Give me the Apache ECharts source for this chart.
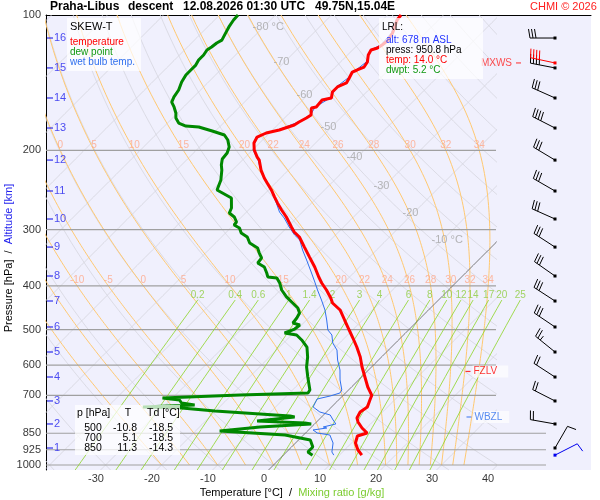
<!DOCTYPE html>
<html>
<head>
<meta charset="utf-8">
<title>Praha-Libus skew-T</title>
<script src="https://cdn.jsdelivr.net/npm/echarts@6/dist/echarts.min.js"></script>
<style>html,body{margin:0;padding:0;background:#fff}#chart{width:600px;height:500px}</style>
</head>
<body>
<div id="chart"></div>
<script>
// sounding: pressure [hPa] / temperature [°C]
var tempP = [100, 102.6, 109.6, 113.7, 116.6, 118.4, 119.6, 122.7, 127.2, 130.5, 132.5, 133.9, 138.0, 141.6, 144.5, 148.3, 152.9, 154.5, 160.1, 160.9, 166.8, 169.4, 172.9, 175.6, 180.1, 182.9, 186.7, 192.5, 199.5, 206.9, 210.1, 221.1, 230.3, 236.2, 244.8, 253.7, 261.6, 271.2, 281.1, 295.9, 303.6, 311.4, 327.9, 345.1, 363.1, 382.1, 394.0, 408.4, 425.5, 436.5, 452.4, 476.2, 501.2, 522.2, 546.8, 575.4, 605.6, 637.4, 670.9, 700, 717.0, 743.1, 762.4, 786.2, 802.4, 827.6, 849.0, 862.1, 893.5, 926.1, 950.8];
var tempT = [-57.6, -57.4, -55.9, -55.4, -55.6, -55.9, -56.7, -56.3, -55.2, -54.9, -55.6, -56.1, -55.6, -55.2, -56.1, -56.1, -55.2, -56.5, -56.3, -57.0, -55.8, -56.1, -56.7, -57.0, -58.8, -60.6, -61.5, -61.0, -59.7, -57.9, -57.0, -54.9, -52.9, -51.5, -49.5, -47.7, -46.1, -44.1, -42.0, -39.3, -37.9, -36.1, -33.4, -30.7, -28.0, -25.5, -23.9, -21.8, -19.6, -18.4, -15.8, -13.2, -10.6, -8.5, -6.2, -3.8, -1.7, 0.6, 2.9, 5.1, 5.6, 6.4, 6.0, 6.5, 7.4, 9.2, 11.0, 9.8, 10.7, 12.4, 14.0];

var dewP = [100, 102.6, 106.3, 109.6, 113.7, 115.4, 117.8, 119.6, 122.7, 125.9, 129.2, 132.5, 135.9, 140.9, 146.8, 152.1, 156.1, 160.1, 165.1, 169.4, 173.8, 176.5, 177.4, 181.0, 184.8, 189.6, 196.5, 202.6, 208.9, 215.4, 221.1, 232.6, 244.8, 248.6, 255.1, 268.5, 275.4, 281.1, 288.4, 292.9, 297.4, 305.1, 311.4, 321.1, 329.4, 338.0, 346.7, 355.7, 363.1, 374.4, 382.1, 384.1, 394.0, 408.4, 423.2, 436.5, 447.8, 459.4, 471.3, 483.6, 488.6, 498.7, 508.9, 514.1, 527.4, 546.8, 575.4, 605.6, 637.4, 681.3, 691.8, 698.9, 709.7, 717.0, 728.1, 735.6, 743.1, 746.9, 758.6, 778.2, 782.2, 798.3, 806.6, 810.6, 823.2, 840.1, 857.7, 879.9, 912.0, 935.6, 950.8];
var dewT = [-86.7, -86.6, -86.2, -85.7, -85.1, -85.5, -85.7, -86.0, -85.7, -85.7, -85.3, -85.3, -85.3, -84.8, -83.9, -83.5, -83.0, -81.7, -80.3, -79.4, -78.0, -76.2, -73.7, -70.6, -67.7, -66.2, -64.7, -64.0, -63.8, -62.9, -61.9, -60.3, -59.2, -57.7, -55.2, -53.4, -52.9, -51.3, -50.0, -49.9, -48.4, -47.2, -45.4, -43.9, -41.6, -40.4, -39.1, -38.9, -37.0, -35.5, -34.6, -32.8, -31.4, -29.8, -27.7, -25.5, -23.7, -22.5, -22.1, -21.9, -20.3, -20.5, -21.6, -19.1, -17.3, -15.1, -13.2, -11.6, -9.6, -6.9, -6.7, -18.5, -31.8, -28.4, -27.5, -24.8, -33.7, -26.6, -20.1, -5.8, -4.8, -10.8, -1.9, -0.6, -9.2, -15.7, -3.3, 2.1, 3.8, 3.8, 5.2];

var wetP = [100, 103.6, 109.6, 116.6, 119.6, 127.2, 132.5, 138.0, 144.5, 152.9, 160.1, 166.8, 172.9, 180.1, 186.7, 199.5, 210.1, 223.4, 236.2, 248.6, 261.6, 274.1, 282.6, 295.9, 308.3, 316.2, 332.9, 350.3, 374.4, 392.1, 408.4, 429.9, 452.4, 476.2, 501.2, 514.1, 535.8, 555.3, 584.5, 615.0, 647.3, 681.3, 691.8, 702.5, 713.4, 743.1, 762.4, 774.3, 794.3, 810.6, 823.2, 827.6, 835.9, 849.0, 857.7, 893.5, 935.6, 950.8];
var wetT = [-57.7, -57.4, -56.1, -55.8, -56.8, -55.4, -55.8, -55.8, -56.3, -55.4, -56.5, -55.9, -56.8, -59.0, -61.7, -59.9, -57.2, -54.5, -51.5, -48.8, -46.3, -44.1, -42.2, -39.7, -37.3, -35.5, -33.2, -30.7, -27.5, -25.3, -23.4, -20.9, -18.5, -16.4, -14.4, -12.8, -11.2, -9.2, -7.3, -5.1, -3.3, -1.2, -1.0, -2.2, -4.0, -3.3, -1.2, 1.2, 2.6, 3.8, 2.1, 2.9, 0.8, 2.1, 4.7, 6.7, 8.1, 9.0];

// altitude marks (km) and the pressure they sit at, winds at the same levels
var altKm = [16, 15, 14, 13, 12, 11, 10, 9, 8, 7, 6, 5, 4, 3, 2, 1];
var altP = [112.5, 131.1, 152.9, 178.3, 210.1, 246.1, 284.0, 327.9, 380.2, 432.1, 493.5, 560.9, 637.5, 720.6, 810.6, 916.7];
var windDir = [270, 281, 294, 297, 301, 300, 294, 303, 305, 303, 304, 309, 303, 297, 280, 30];
var windSpd = [30, 40, 30, 40, 30, 30, 30, 30, 30, 30, 30, 25, 20, 20, 20, 10];

// max wind and launch-level wind
var extraWindP = [127.8, 950.8];
var extraWindDir = [282, 63];
var extraWindSpd = [40, 10];

// special levels
var levelNames = ['MXWS', 'FZLV', 'WBZL'];
var levelP = [127.8, 619.6, 782.2];

// axes / diagram grid
var pressTicks = [100, 200, 300, 400, 500, 600, 700, 850, 925, 1000];
var isobarP = [200, 300, 400, 500, 600, 700, 850, 925, 1000];
var tempTicks = [-30, -20, -10, 0, 10, 20, 30, 40];
var isoT = [-120, -110, -100, -90, -80, -70, -60, -50, -40, -30, -20, -10, 0, 10, 20, 30, 40];
var isoLabT = [-80, -70, -60, -50, -40, -30, -20, -10];
var isoLabP = [106.3, 127.2, 150.6, 177.4, 206.9, 239.9, 275.4, 316.2];
var thetaC = [-40, -30, -20, -10, 0, 10, 20, 30, 40, 50, 60, 70, 80, 90, 100, 110, 120, 130, 140, 150, 160, 170, 180];
var thetaW = [-20, -15, -10, -5, 0, 5, 10, 15, 20, 22, 24, 26, 28, 30, 32, 34];
var mixW = [0.2, 0.4, 0.6, 1, 1.4, 2, 3, 4, 6, 8, 10, 12, 14, 17, 20, 25];

// table and launch level box
var tabP = [500, 700, 850];
var tabT = [-10.8, 5.1, 11.3];
var tabTd = [-18.5, -18.5, -14.3];
var lrlAlt = 678, lrlP = 950.8, lrlT = 14.0, lrlTd = 5.2;

var FONT = '"Liberation Sans", Arial, sans-serif';
var PX_DEG = 5.6, PX_DEC = 450, K = PX_DEC / PX_DEG, P_REF = 1050;
var X_MIN = (46 - 264) / PX_DEG, X_MAX0 = (496 - 264) / PX_DEG, X_MAX1 = (591 - 264) / PX_DEG;
var X_LOW_END = (546 - 264) / PX_DEG, X_BARB = (555 - 264) / PX_DEG;
var P_TOP = 100, P_BOT = 100 * Math.pow(10, 455 / 450), MIX_TOP = 430;

function skewX(t, p) { return t + K * Math.log10(P_REF / p); }
function logLevels(p0, p1, n) {
    var a = [];
    for (var i = 0; i <= n; i++) a.push(p0 * Math.pow(p1 / p0, i / n));
    return a;
}
function es(tc) { return 6.112 * Math.exp(17.67 * tc / (tc + 243.5)); }
function moistRate(tk, p) {
    var e = es(tk - 273.15), r = 0.622 * e / (p - e);
    return (287.04 * tk + 2.501e6 * r) / (1005.7 + 2.501e6 * 2.501e6 * r * 0.622 / (287.04 * tk * tk)) / p;
}
function moistLine(thw) {
    var tk = thw + 273.15, p = 1000, dp = -5, pts = [[skewX(thw, p), p]];
    while (p > 100) {
        var k1 = moistRate(tk, p), k2 = moistRate(tk + dp / 2 * k1, p + dp / 2),
            k3 = moistRate(tk + dp / 2 * k2, p + dp / 2), k4 = moistRate(tk + dp * k3, p + dp);
        tk += dp / 6 * (k1 + 2 * k2 + 2 * k3 + k4);
        p += dp;
        pts.push([skewX(tk - 273.15, p), p]);
    }
    return pts;
}
function mixT(w, p) {
    var e = w / 1000 * p / (0.622 + w / 1000), l = Math.log(e / 6.112);
    return 243.5 * l / (17.67 - l);
}
function lineS(g, data, color, width, z) {
    return {type: 'line', xAxisIndex: g, yAxisIndex: g, data: data, showSymbol: false, symbol: 'none',
        silent: true, animation: false, lineStyle: {color: color, width: width}, z: z || 1};
}
function labelS(data, label, z) {
    return {type: 'scatter', xAxisIndex: 1, yAxisIndex: 1, data: data, symbolSize: 0, silent: true,
        clip: false, animation: false, z: z || 3,
        label: Object.assign({show: true, formatter: '{b}', fontFamily: FONT}, label)};
}

var series = [];
var bgLevels = logLevels(P_BOT, P_TOP, 60);

// isotherms, dry adiabats, moist adiabats (clipped on grid 0)
isoT.forEach(function (t) {
    series.push(lineS(0, bgLevels.map(function (p) { return [skewX(t, p), p]; }),
        t === 0 ? '#6e6e6e' : '#d4d4dc', t === 0 ? 0.9 : 0.8, t === 0 ? 3 : 1));
});
thetaC.forEach(function (th) {
    series.push(lineS(0, bgLevels.map(function (p) {
        return [skewX((th + 273.15) * Math.pow(p / 1000, 0.2857) - 273.15, p), p];
    }), '#d6d6de', 0.8));
});
var moistLab = [];
thetaW.forEach(function (thw) {
    var pts = moistLine(thw);
    series.push(lineS(0, pts, '#ffc870', 1, 1));
    pts.forEach(function (pt) {
        if ((pt[1] === 200 || pt[1] === 400) && pt[0] > -37.5 && pt[0] < 41)
            moistLab.push({value: pt, name: String(thw)});
    });
});

// isobars
isobarP.forEach(function (p) {
    series.push(lineS(1, [[X_MIN, p], [p >= 850 ? X_LOW_END : X_MAX0, p]], '#a0a0a0', 1.2, 2));
});

// mixing ratio lines
var mixLab = [];
mixW.forEach(function (w) {
    var pts = logLevels(P_BOT, MIX_TOP, 20).map(function (p) { return [skewX(mixT(w, p), p), p]; });
    series.push(lineS(1, pts, '#8cd424', 0.8, 2));
    mixLab.push({value: pts[pts.length - 1], name: String(w)});
});

// labels of the diagram lines
series.push(labelS(moistLab, {position: 'top', distance: 0.5, color: '#ffa888', fontSize: 10}));
series.push(labelS(mixLab, {position: 'top', distance: 0, color: '#8ccc3c', fontSize: 10}));
series.push(labelS(isoLabT.map(function (t, i) {
    return {value: [skewX(t, isoLabP[i]), isoLabP[i]], name: (t === -80 || t === -10) ? t + ' °C' : String(t)};
}), {position: 'right', distance: 0, offset: [-11, 0], color: '#a4a4a4', fontSize: 11}));

// axis labels
series.push(labelS(pressTicks.map(function (p) { return {value: [X_MIN, p], name: String(p)}; }),
    {position: 'left', distance: 5, color: '#000', fontSize: 11}));
series.push(labelS(tempTicks.map(function (t) { return {value: [t, P_BOT], name: String(t)}; }),
    {position: 'bottom', distance: 3, color: '#000', fontSize: 11}));
series.push({type: 'scatter', xAxisIndex: 1, yAxisIndex: 1, symbol: 'rect', symbolSize: [6, 1.4],
    silent: true, animation: false, clip: false, z: 4, itemStyle: {color: '#2222ee'},
    data: altP.map(function (p) { return [X_MIN + 4 / PX_DEG, p]; })});
series.push(labelS(altKm.map(function (k, i) { return {value: [X_MIN + 8 / PX_DEG, altP[i]], name: String(k)}; }),
    {position: 'right', distance: 0, color: '#2222ee', fontSize: 11}, 4));

// profiles
function prof(P, T) { return P.map(function (p, i) { return [skewX(T[i], p), p]; }); }
series.push(lineS(1, prof(wetP, wetT), '#2f6fee', 1, 5));
series.push(lineS(1, prof(dewP, dewT), '#008800', 3, 6));
series.push(lineS(1, prof(tempP, tempT), '#ff0000', 3, 7));

// wind barbs
var BARB_COLORS = ['#000000', '#ff0000', '#0000ee'];
var barbData = altP.map(function (p, i) { return [X_BARB, p, windDir[i], windSpd[i], 0]; });
barbData.push([X_BARB, extraWindP[0], extraWindDir[0], extraWindSpd[0], 1]);
barbData.push([X_BARB, extraWindP[1], extraWindDir[1], extraWindSpd[1], 2]);
series.push({
    type: 'custom', xAxisIndex: 1, yAxisIndex: 1, data: barbData, silent: true, animation: false, clip: false, z: 8,
    renderItem: function (params, api) {
        var c = api.coord([api.value(0), api.value(1)]);
        var d = api.value(2) * Math.PI / 180, s = api.value(3), col = BARB_COLORS[api.value(4)];
        var ux = Math.sin(d), uy = -Math.cos(d), bx = -uy, by = ux;
        var tx = c[0] + 25 * ux, ty = c[1] + 25 * uy;
        var ch = [
            {type: 'rect', shape: {x: c[0] - 1.5, y: c[1] - 1.5, width: 3, height: 3}, style: {fill: col}},
            {type: 'line', shape: {x1: c[0], y1: c[1], x2: tx, y2: ty}, style: {stroke: col, lineWidth: 1}}
        ];
        var pos = 0, n = Math.floor(s / 10);
        for (var i = 0; i < n; i++) {
            var sx = tx - pos * ux, sy = ty - pos * uy;
            ch.push({type: 'line', shape: {x1: sx, y1: sy, x2: sx + 9 * bx + 1.5 * ux, y2: sy + 9 * by + 1.5 * uy},
                style: {stroke: col, lineWidth: 1}});
            pos += 3;
        }
        if (s % 10 >= 5) {
            var hx = tx - pos * ux, hy = ty - pos * uy;
            ch.push({type: 'line', shape: {x1: hx, y1: hy, x2: hx + 5 * bx, y2: hy + 5 * by},
                style: {stroke: col, lineWidth: 1}});
        }
        return {type: 'group', children: ch};
    }
});

// MXWS / FZLV / WBZL marks
series.push({
    type: 'scatter', xAxisIndex: 1, yAxisIndex: 1, symbol: 'rect', symbolSize: [5, 1.2],
    silent: true, animation: false, clip: false, z: 9,
    label: {show: true, formatter: '{b}', fontFamily: FONT, fontSize: 10},
    data: [
        {name: levelNames[0], value: [(518.5 - 264) / PX_DEG, levelP[0]], itemStyle: {color: '#ff2020'},
            label: {position: 'left', distance: 4, color: '#ff2020'}},
        {name: levelNames[1], value: [(468 - 264) / PX_DEG, levelP[1]], itemStyle: {color: '#ff0000'},
            label: {position: 'right', distance: 2, color: '#ff0000', backgroundColor: 'rgba(255,255,255,0.8)', padding: [1, 11, 1, 1]}},
        {name: levelNames[2], value: [(469 - 264) / PX_DEG, levelP[2]], itemStyle: {color: '#2f6fee'},
            label: {position: 'right', distance: 2, color: '#2f6fee', backgroundColor: 'rgba(255,255,255,0.8)', padding: [1, 7, 1, 1]}}
    ]
});

// text blocks
function txt(x, y, text, size, color, align, weight) {
    return {type: 'text', x: x, y: y, z: 110, silent: true,
        style: {text: text, font: (weight || '') + ' ' + size + 'px ' + FONT, fill: color,
            align: align || 'left', verticalAlign: 'middle'}};
}
function box(x, y, w, h) {
    return {type: 'rect', z: 100, silent: true, shape: {x: x, y: y, width: w, height: h},
        style: {fill: 'rgba(255,255,255,0.72)'}};
}
var graphics = [
    txt(50, 7, 'Praha-Libus', 12, '#000', 'left', 'bold'),
    txt(128, 7, 'descent', 12, '#000', 'left', 'bold'),
    txt(183, 7, '12.08.2026 01:30 UTC', 12, '#000', 'left', 'bold'),
    txt(315, 7, '49.75N,15.04E', 12, '#000', 'left', 'bold'),
    txt(530, 7, 'CHMI © 2026', 11, '#ff2020'),
    box(67, 18, 74, 53),
    txt(70, 27, 'SKEW-T', 11, '#000'),
    txt(70, 42, 'temperature', 10, '#ff0000'),
    txt(70, 52, 'dew point', 10, '#119911'),
    txt(70, 62, 'wet bulb temp.', 10, '#2f6fee'),
    box(379, 18, 104, 61),
    txt(382, 27, 'LRL:', 10, '#000'),
    txt(386, 40, 'alt: ' + lrlAlt + ' m ASL', 10, '#2233ff'),
    txt(386, 50, 'press: ' + lrlP.toFixed(1) + ' hPa', 10, '#000'),
    txt(386, 60, 'temp: ' + lrlT.toFixed(1) + ' °C', 10, '#ff0000'),
    txt(386, 70, 'dwpt: ' + lrlTd.toFixed(1) + ' °C', 10, '#119911'),
    box(75, 405, 105, 50),
    txt(77, 413, 'p [hPa]', 10.5, '#000'),
    txt(128, 413, 'T', 10.5, '#000', 'center'),
    txt(147, 413, 'Td [°C]', 10.5, '#000'),
    {type: 'text', x: 292, y: 493, z: 110, silent: true,
        style: {text: '{a|Temperature [°C]}  /  {b|Mixing ratio [g/kg]}', font: '11px ' + FONT,
            align: 'center', verticalAlign: 'middle', fill: '#000',
            rich: {a: {fill: '#000', font: '11px ' + FONT}, b: {fill: '#7ccc30', font: '11px ' + FONT}}}},
    {type: 'text', x: 9, y: 258, rotation: Math.PI / 2, z: 110, silent: true,
        style: {text: '{a|Pressure [hPa]}  /  {b|Altitude [km]}', font: '11px ' + FONT,
            align: 'center', verticalAlign: 'middle', fill: '#000',
            rich: {a: {fill: '#000', font: '11px ' + FONT}, b: {fill: '#2222ee', font: '11px ' + FONT}}}}
];
tabP.forEach(function (p, i) {
    var y = 428.5 + i * 10;
    graphics.push(txt(93, y, String(p), 10.5, '#000', 'center'));
    graphics.push(txt(137, y, tabT[i].toFixed(1), 10.5, '#000', 'right'));
    graphics.push(txt(173, y, tabTd[i].toFixed(1), 10.5, '#000', 'right'));
});

var myChart = echarts.init(document.getElementById('chart'));
myChart.setOption({
    animation: false,
    grid: [
        {left: 46, top: 15, width: 450, height: 455, show: false},
        {left: 46, top: 15, width: 545, height: 455, show: true, backgroundColor: '#f0f0fd', borderWidth: 0}
    ],
    xAxis: [
        {gridIndex: 0, type: 'value', min: X_MIN, max: X_MAX0, show: false},
        {gridIndex: 1, type: 'value', min: X_MIN, max: X_MAX1, position: 'top',
            axisLine: {show: true, onZero: false, lineStyle: {color: '#000', width: 1}},
            axisTick: {show: false}, axisLabel: {show: false}, splitLine: {show: false}}
    ],
    yAxis: [
        {gridIndex: 0, type: 'log', logBase: 10, min: P_TOP, max: P_BOT, inverse: true, show: false},
        {gridIndex: 1, type: 'log', logBase: 10, min: P_TOP, max: P_BOT, inverse: true,
            axisLine: {show: true, onZero: false, lineStyle: {color: '#000', width: 1}},
            axisTick: {show: false}, axisLabel: {show: false}, splitLine: {show: false}}
    ],
    graphic: graphics,
    series: series
});
</script>
</body>
</html>
